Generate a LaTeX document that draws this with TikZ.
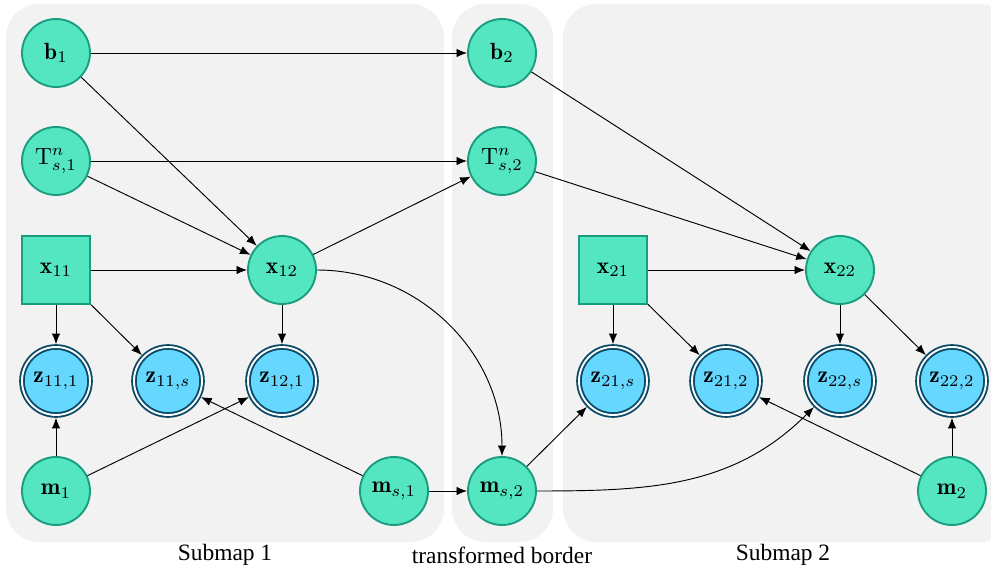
\documentclass[tikz,border=0pt]{standalone}
\usepackage{fontspec}
\newfontfamily\capfont{Liberation Serif}
\usetikzlibrary{arrows.meta}
\definecolor{nodegreen}{HTML}{53E6C1}
\definecolor{greenedge}{HTML}{1A9C7F}
\definecolor{obsblue}{HTML}{66D7FF}
\definecolor{obsedge}{HTML}{0A4A66}
\definecolor{panelgray}{HTML}{F2F2F2}
\begin{document}
\begin{tikzpicture}[
  var/.style={
    circle,
    draw=greenedge,
    line width=0.8pt,
    fill=nodegreen,
    minimum size=1.02cm,
    inner sep=0pt
  },
  known/.style={var, rectangle},
  obs/.style={
    circle,
    draw=obsedge,
    line width=0.8pt,
    double=white,
    double distance=0.8pt,
    fill=obsblue,
    minimum size=1.02cm,
    inner sep=0pt,
    outer sep=1.2pt
  },
  panel/.style={fill=panelgray, rounded corners=0.5cm},
  edge/.style={-{Latex[length=4.5pt,width=3.6pt]}},
  caption/.style={font=\capfont}
]
\clip (0,0) rectangle (14.865,-8.58);
% submap panels
\fill[panel] (0.09,-0.06) rectangle (6.66,-8.13);
\fill[panel] (6.78,-0.06) rectangle (8.295,-8.13);
\fill[panel] (8.445,-0.06) rectangle (15.2,-8.13);
\node[caption] (c1) at (3.375,-8.33) {Submap 1};
\node[caption] (c0) at (7.53,-8.33) {transformed border};
\node[caption] (c2) at (11.745,-8.33) {Submap 2};
% submap 1
\node[var] (b1) at (0.84,-0.795) {$\mathbf{b}_1$};
\node[var] (t1) at (0.84,-2.415) {$\mathrm{T}^n_{s,1}$};
\node[known] (x11) at (0.84,-4.05) {$\mathbf{x}_{11}$};
\node[var] (x12) at (4.23,-4.05) {$\mathbf{x}_{12}$};
\node[obs] (z111) at (0.84,-5.715) {$\mathbf{z}_{11,1}$};
\node[obs] (z11s) at (2.52,-5.715) {$\mathbf{z}_{11,s}$};
\node[obs] (z121) at (4.23,-5.715) {$\mathbf{z}_{12,1}$};
\node[var] (m1) at (0.84,-7.365) {$\mathbf{m}_1$};
\node[var] (ms1) at (5.91,-7.365) {$\mathbf{m}_{s,1}$};
% border
\node[var] (b2) at (7.53,-0.795) {$\mathbf{b}_2$};
\node[var] (t2) at (7.53,-2.415) {$\mathrm{T}^n_{s,2}$};
\node[var] (ms2) at (7.53,-7.365) {$\mathbf{m}_{s,2}$};
% submap 2
\node[known] (x21) at (9.195,-4.05) {$\mathbf{x}_{21}$};
\node[var] (x22) at (12.6,-4.05) {$\mathbf{x}_{22}$};
\node[obs] (z21s) at (9.195,-5.715) {$\mathbf{z}_{21,s}$};
\node[obs] (z212) at (10.89,-5.715) {$\mathbf{z}_{21,2}$};
\node[obs] (z22s) at (12.6,-5.715) {$\mathbf{z}_{22,s}$};
\node[obs] (z222) at (14.28,-5.715) {$\mathbf{z}_{22,2}$};
\node[var] (m2) at (14.28,-7.365) {$\mathbf{m}_2$};
% edges
\draw[edge] (b1) -- (b2);
\draw[edge] (b1) -- (x12);
\draw[edge] (t1) -- (t2);
\draw[edge] (t1) -- (x12);
\draw[edge] (x11) -- (x12);
\draw[edge] (x12) -- (t2);
\draw[edge] (x12.east) to[out=0,in=90] (ms2.north);
\draw[edge] (x11) -- (z111);
\draw[edge] (x11) -- (z11s);
\draw[edge] (x12) -- (z121);
\draw[edge] (m1) -- (z111);
\draw[edge] (m1) -- (z121);
\draw[edge] (ms1) -- (z11s);
\draw[edge] (ms1) -- (ms2);
\draw[edge] (b2) -- (x22);
\draw[edge] (t2) -- (x22);
\draw[edge] (x21) -- (x22);
\draw[edge] (ms2) -- (z21s);
\draw[edge] (ms2.east) to[out=0,in=-135] (z22s);
\draw[edge] (x21) -- (z21s);
\draw[edge] (x21) -- (z212);
\draw[edge] (x22) -- (z22s);
\draw[edge] (x22) -- (z222);
\draw[edge] (m2) -- (z212);
\draw[edge] (m2) -- (z222);
\end{tikzpicture}
\end{document}
